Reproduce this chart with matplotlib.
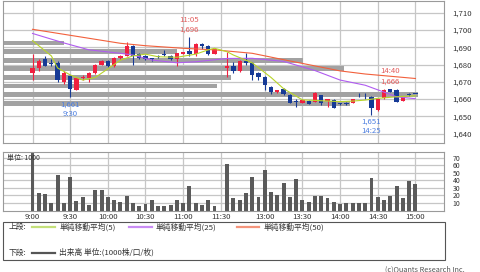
import numpy as np
import matplotlib
matplotlib.use('Agg')
import matplotlib.pyplot as plt
from matplotlib.patches import Rectangle
from matplotlib.lines import Line2D
from matplotlib.ticker import FuncFormatter

plt.rcParams['font.family'] = ['Noto Sans CJK JP', 'DejaVu Sans']

# 5分足 (index 0 = 9:00, 30 = 11:30 (空), 31 = 12:30 ... 61 = 15:00)
opens = [1675, 1678, 1683, 1681, 1681, 1670, 1673.5, 1665, 1672, 1672,
         1675, 1680, 1682, 1679, 1684, 1685, 1691, 1686, 1685, 1683.5,
         1685, 1686, 1685, 1683, 1686, 1688, 1686, 1692, 1691, 1686,
         None, 1678, 1679, 1676, 1682, 1681, 1675, 1673, 1667, 1664,
         1665.6, 1662.3, 1658.8, 1657.9, 1659, 1658.5, 1662.3, 1659, 1659.4, 1657.3,
         1657.7, 1657.9, 1662.5, 1662.5, 1661.4, 1653.6, 1660.4, 1665.6, 1665.2, 1659,
         1662.9, 1663]
highs = [1686, 1683, 1685, 1683, 1682, 1676, 1674, 1673, 1674, 1675.5,
         1680.5, 1682.5, 1682.5, 1684.5, 1685.5, 1693, 1691.5, 1686.5, 1685.5, 1684,
         1685.5, 1688.5, 1685.5, 1686.5, 1687.5, 1696, 1692.5, 1692.5, 1691.5, 1689,
         None, 1687, 1681.5, 1682.5, 1686.5, 1681.5, 1675.5, 1673.5, 1667.5, 1665.5,
         1666.2, 1662.7, 1659.8, 1659.8, 1659.4, 1663.8, 1662.5, 1660, 1659.8, 1657.9,
         1658, 1660.2, 1663.3, 1663.7, 1662, 1659.8, 1665.6, 1666, 1665.6, 1661.3,
         1663.3, 1663]
lows = [1671, 1676, 1679, 1679, 1670, 1669, 1661, 1665, 1671, 1670,
        1674.5, 1679.5, 1678.5, 1678.5, 1683, 1685, 1680, 1683, 1682.5, 1682,
        1684, 1685, 1682.5, 1679, 1686, 1685, 1685, 1689, 1685.5, 1686,
        None, 1673, 1675, 1675.5, 1679.5, 1671, 1671, 1665, 1663, 1663.5,
        1662.3, 1657.5, 1655.6, 1657.9, 1657, 1658.5, 1656.5, 1655.6, 1655, 1656.5,
        1656.8, 1657.5, 1661, 1659.8, 1651, 1653.2, 1660, 1664, 1658, 1658.8,
        1662, 1662.8]
closes = [1678, 1682, 1679, 1680.5, 1671, 1675, 1665.6, 1672, 1673, 1675,
          1680, 1682, 1679, 1684, 1685, 1691, 1685, 1684, 1683, 1683,
          1684.3, 1685.3, 1683, 1686.5, 1687, 1686, 1692, 1691, 1686, 1689,
          None, 1679, 1676, 1682, 1681, 1674, 1673, 1668, 1664, 1665,
          1662.7, 1657.9, 1658.3, 1659.4, 1657.1, 1663.3, 1657.9, 1659.8, 1655, 1657,
          1657.3, 1659.8, 1662.1, 1662.1, 1654.6, 1659.8, 1665.2, 1664.3, 1658.5, 1661,
          1662.5, 1662.8]
volume = [95, 23, 22, 10, 47, 10, 44, 12.5, 18, 7.5,
          27.5, 27.5, 18, 14, 11.5, 19.5, 10, 6, 9, 14,
          6, 6, 7.5, 14, 10, 32, 10, 7.5, 14, 6,
          0, 61, 16.5, 13.3, 23, 44, 18, 54, 24.5, 20,
          37, 18, 42, 14, 11.5, 19.5, 19.5, 16.5, 11.5, 8.5,
          10, 10, 10, 10, 43, 18, 13.3, 19, 32, 16,
          39, 34.7]

# 移動平均 (読み取り値)
ma5_idx = [0, 3, 4, 6, 8, 10, 13, 14, 16, 18, 20, 23, 26, 28, 29, 31, 32, 35, 38, 40, 43, 45, 49, 51, 53, 55, 58, 61]
ma5_val = [1693.8, 1685, 1678, 1674, 1671, 1672.5, 1680, 1682.5, 1685, 1686, 1684.5, 1684.2, 1686, 1688.5,
           1689.4, 1687.4, 1685.5, 1681, 1672.5, 1666, 1659.5, 1659.2, 1658.5, 1658.8, 1659.4, 1660.4, 1661.3, 1661.9]
ma25_idx = [0, 5, 9, 14, 16, 19, 23, 26, 31, 35, 40, 45, 49, 53, 56, 58, 61]
ma25_val = [1698, 1692.5, 1688.5, 1686.5, 1685.5, 1682.6, 1681, 1681.6, 1683.5, 1683.6, 1681.8, 1676.5,
            1671, 1668, 1664, 1661.3, 1660.2]
ma50_idx = [0, 14, 18, 24, 29, 35, 40, 49, 53, 61]
ma50_val = [1700.4, 1692.3, 1690.9, 1689.4, 1688.5, 1686.5, 1682.8, 1676.3, 1674.5, 1671.9]

# 価格帯別出来高 (パネル幅に対する比率)
profile_price = [1692.5, 1687.5, 1682.5, 1677.5, 1672.5, 1667.5, 1662.5, 1657.5]
profile_share = [0.138, 0.394, 0.68, 0.773, 0.516, 0.485, 0.941, 0.787]

tick_idx = [0, 6, 12, 18, 24, 30, 37, 43, 49, 55, 61]
tick_lab = ['9:00', '9:30', '10:00', '10:30', '11:00', '11:30', '13:00', '13:30', '14:00', '14:30', '15:00']
ann_idx = [25, 57, 6, 54]
ann_time = ['11:05', '14:40', '9:30', '14:25']
ann_kind = ['high', 'high', 'low', 'low']

RED = '#f0203f'
BLUE = '#163a96'
GRID = '#c6c6c6'
TXT = '#333333'
W, H = 480, 272


def fx(x):
    return x / W


def fy(y):
    return 1 - y / H


fig = plt.figure(figsize=(4.8, 2.72), dpi=100)
ax = fig.add_axes([fx(3), fy(142.7), fx(444.3 - 3), (142.7 - 1) / H])
axv = fig.add_axes([fx(3), fy(210.5), fx(444.3 - 3), (210.5 - 152.3) / H])

for a in (ax, axv):
    a.set_xlim(-4.7, 65.6)
    a.set_xticks(tick_idx)
    a.grid(True, color=GRID, lw=0.9, zorder=0)
    a.set_axisbelow(True)
    for s in a.spines.values():
        s.set_color('#9a9a9a')
        s.set_linewidth(0.8)
    a.yaxis.tick_right()
    a.tick_params(length=0, colors=TXT)

# 価格パネル
ax.set_ylim(1634.7, 1716.8)
ax.set_yticks(np.arange(1640, 1711, 10))
ax.yaxis.set_major_formatter(FuncFormatter(lambda v, p: '{:,.0f}'.format(v)))
ax.tick_params(axis='y', labelsize=5.6, pad=6)
ax.set_xticklabels([])

ax.barh(profile_price, profile_share, height=2.7, left=0, color='#a2a2a2',
        transform=ax.get_yaxis_transform(), zorder=1)

vi = [i for i in range(len(opens)) if opens[i] is not None]
o = np.array([opens[i] for i in vi])
c = np.array([closes[i] for i in vi])
hi = np.array([highs[i] for i in vi])
lo = np.array([lows[i] for i in vi])
cols = [RED if cc >= oo else BLUE for oo, cc in zip(o, c)]
ax.vlines(vi, lo, hi, colors=cols, lw=0.8, zorder=3)
ax.bar(vi, np.maximum(np.abs(c - o), 0.5), bottom=np.minimum(o, c), width=0.68,
       color=cols, zorder=4)

ax.plot(ma50_idx, ma50_val, color='#f2603c', lw=0.8, zorder=5)
ax.plot(ma25_idx, ma25_val, color='#b05cf0', lw=0.8, zorder=5)
ax.plot(ma5_idx, ma5_val, color='#b8d42a', lw=0.8, zorder=5)

for i, t, k in zip(ann_idx, ann_time, ann_kind):
    if k == 'high':
        ax.annotate('{}\n{:,.0f}'.format(t, highs[i]), xy=(i, highs[i]), xytext=(0, 2.5),
                    textcoords='offset points', ha='center', va='bottom', fontsize=5.6,
                    color='#e35d5d', linespacing=1.3, zorder=6)
    else:
        ax.annotate('{:,.0f}\n{}'.format(lows[i], t), xy=(i, lows[i]), xytext=(0, -2.2),
                    textcoords='offset points', ha='center', va='top', fontsize=5.6,
                    color='#4d7fe0', linespacing=1.3, zorder=6)

# 出来高パネル
axv.set_ylim(0, 77)
axv.set_yticks(np.arange(10, 71, 10))
axv.tick_params(axis='y', labelsize=5, pad=6)
axv.set_xticklabels(tick_lab)
axv.tick_params(axis='x', labelsize=5.6, pad=2)
axv.bar(range(len(volume)), volume, width=0.62, color='#5a5a5a', zorder=2)
axv.text(0.008, 0.9, '単位: 1000', transform=axv.transAxes, fontsize=5, color=TXT,
         va='center', zorder=5)

# 凡例
fig.add_artist(Rectangle((fx(3), fy(260)), fx(442), 38.3 / H, transform=fig.transFigure,
                         fill=False, edgecolor='#555555', lw=0.8))
fs = 5.6
y1, y2 = fy(227.3), fy(252.7)
fig.text(fx(8.3), y1, '上段:', fontsize=fs, va='center', color=TXT)
fig.text(fx(8.3), y2, '下段:', fontsize=fs, va='center', color=TXT)
legend_items = [(32, 55, 59.3, y1, '#c4e07a', '単純移動平均(5)'),
                (129, 152, 155.7, y1, '#c98cf5', '単純移動平均(25)'),
                (237.3, 259.3, 263.3, y1, '#f5957c', '単純移動平均(50)'),
                (32, 55, 59.3, y2, '#555555', '出来高 単位:(1000株/口/枚)')]
for x0, x1, xt, yy, col, lab in legend_items:
    fig.add_artist(Line2D([fx(x0), fx(x1)], [yy, yy], transform=fig.transFigure, color=col, lw=1.6))
    fig.text(fx(xt), yy, lab, fontsize=fs, va='center', color=TXT)

fig.text(fx(465), fy(269.3), '(c)Quants Research Inc.', fontsize=5.3, ha='right',
         va='center', color='#555555')

fig.savefig('out.png', dpi=100)
